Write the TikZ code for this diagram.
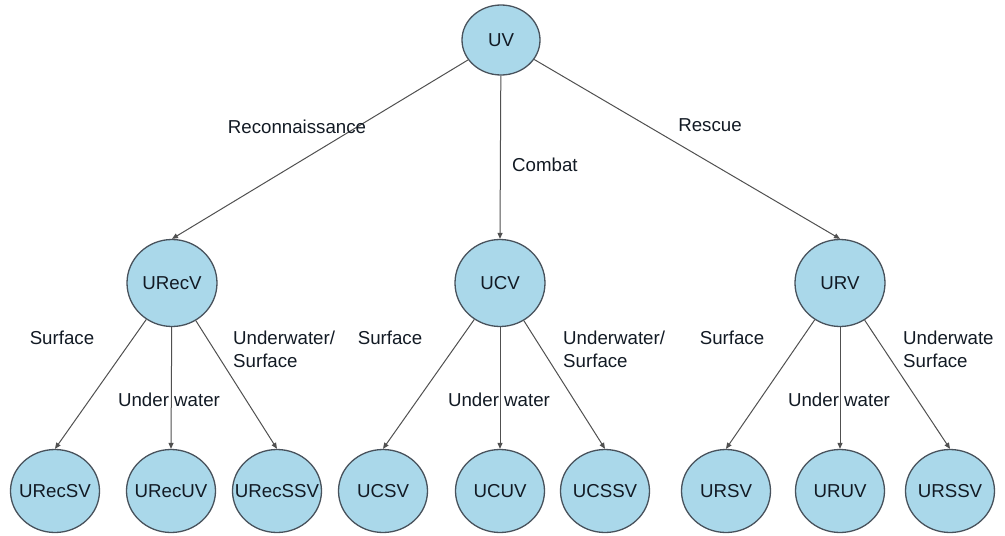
\documentclass[tikz,border=0pt]{standalone}
\usepackage{fontspec}
\setmainfont{Liberation Sans}
\usetikzlibrary{shapes.geometric,arrows.meta}
\definecolor{nodefill}{RGB}{170,216,234}
\definecolor{nodeline}{RGB}{72,82,92}
\definecolor{edgeline}{RGB}{80,80,80}
\definecolor{ink}{RGB}{18,26,36}
% labels inside the ellipses take no width, so every ellipse keeps its set size
\newcommand{\vlabel}[1]{\makebox[0pt][c]{#1}}
\tikzset{
  vehicle/.style={ellipse, draw=nodeline, line width=1.3pt, fill=nodefill,
    inner sep=0pt, text=ink, font=\fontsize{18.7}{22}\selectfont},
  toplevel/.style={vehicle, minimum width=78pt, minimum height=70pt},
  midlevel/.style={vehicle, minimum width=90pt, minimum height=87pt},
  leaflevel/.style={vehicle, minimum width=89pt, minimum height=83pt},
  link/.style={draw=edgeline, line width=1pt, -{Triangle[length=6pt,width=5pt]}},
  tag/.style={inner sep=0pt, text=ink, font=\fontsize{18.7}{23}\selectfont},
}
\begin{document}
\begin{tikzpicture}[x=1pt,y=-1pt]
\useasboundingbox (0,0) rectangle (1005,536);

% root
\node[toplevel] (uv) at (501,40) {\vlabel{UV}};

% mission level
\node[midlevel] (urecv) at (172,283) {\vlabel{URecV}};
\node[midlevel] (ucv)   at (500,283) {\vlabel{UCV}};
\node[midlevel] (urv)   at (840,283) {\vlabel{URV}};

% platform level
\node[leaflevel] (urecsv)  at (55,491)  {\vlabel{URecSV}};
\node[leaflevel] (urecuv)  at (171,491) {\vlabel{URecUV}};
\node[leaflevel] (urecssv) at (277,491) {\vlabel{URecSSV}};
\node[leaflevel] (ucsv)    at (383,491) {\vlabel{UCSV}};
\node[leaflevel] (ucuv)    at (500,491) {\vlabel{UCUV}};
\node[leaflevel] (ucssv)   at (605,491) {\vlabel{UCSSV}};
\node[leaflevel] (ursv)    at (726,491) {\vlabel{URSV}};
\node[leaflevel] (uruv)    at (840,491) {\vlabel{URUV}};
\node[leaflevel] (urssv)   at (950,491) {\vlabel{URSSV}};

% connectors
\draw[link] (uv) -- (urecv.north);
\draw[link] (uv) -- (ucv.north);
\draw[link] (uv) -- (urv.north);

\draw[link] (urecv) -- (urecsv.north);
\draw[link] (urecv) -- (urecuv.north);
\draw[link] (urecv) -- (urecssv.north);
\draw[link] (ucv) -- (ucsv.north);
\draw[link] (ucv) -- (ucuv.north);
\draw[link] (ucv) -- (ucssv.north);
\draw[link] (urv) -- (ursv.north);
\draw[link] (urv) -- (uruv.north);
\draw[link] (urv) -- (urssv.north);

% edge labels
\node[tag] (lrec) at (297,127) {Reconnaissance};
\node[tag, anchor=west] (lcom) at (512,165) {Combat};
\node[tag] (lres) at (710,125) {Rescue};

\node[tag] (l1a) at (62,338) {Surface};
\node[tag] (l1b) at (169,400) {Under water};
\node[tag, anchor=west, align=left] (l1c) at (233,349) {Underwater/\\Surface};

\node[tag] (l2a) at (390,338) {Surface};
\node[tag] (l2b) at (499,400) {Under water};
\node[tag, anchor=west, align=left] (l2c) at (563,349) {Underwater/\\Surface};

\node[tag] (l3a) at (732,338) {Surface};
\node[tag] (l3b) at (839,400) {Under water};
\node[tag, anchor=west, align=left] (l3c) at (903,349) {Underwate\\Surface};
\end{tikzpicture}
\end{document}
